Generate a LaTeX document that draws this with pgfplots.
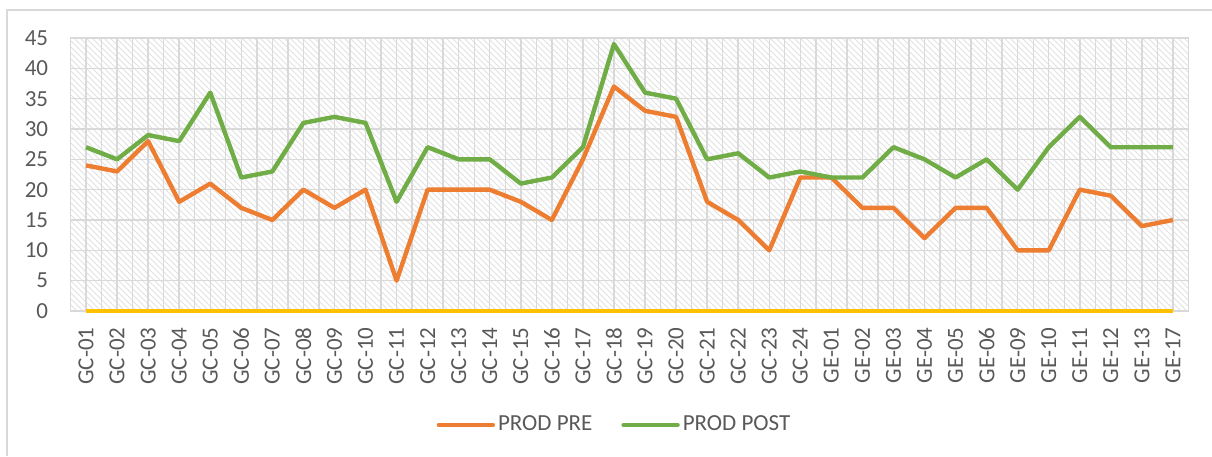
\documentclass[border=0pt]{standalone}
\usepackage{pgfplots}
\pgfplotsset{compat=1.18}
\usepackage{pgfplotstable}
\usetikzlibrary{patterns}
\usepackage{fontspec}
\setmainfont{Carlito}
\definecolor{cpre}{HTML}{ED7D31}
\definecolor{cpost}{HTML}{70AD47}
\definecolor{czero}{HTML}{FFC000}
\definecolor{cgrid}{HTML}{D9D9D9}
\definecolor{ctext}{HTML}{595959}
\definecolor{chatch}{HTML}{E2E2E2}

\pgfplotstableread{
x name pre post zero
0 GC-01 24 27 0
1 GC-02 23 25 0
2 GC-03 28 29 0
3 GC-04 18 28 0
4 GC-05 21 36 0
5 GC-06 17 22 0
6 GC-07 15 23 0
7 GC-08 20 31 0
8 GC-09 17 32 0
9 GC-10 20 31 0
10 GC-11 5 18 0
11 GC-12 20 27 0
12 GC-13 20 25 0
13 GC-14 20 25 0
14 GC-15 18 21 0
15 GC-16 15 22 0
16 GC-17 25 27 0
17 GC-18 37 44 0
18 GC-19 33 36 0
19 GC-20 32 35 0
20 GC-21 18 25 0
21 GC-22 15 26 0
22 GC-23 10 22 0
23 GC-24 22 23 0
24 GE-01 22 22 0
25 GE-02 17 22 0
26 GE-03 17 27 0
27 GE-04 12 25 0
28 GE-05 17 22 0
29 GE-06 17 25 0
30 GE-09 10 20 0
31 GE-10 10 27 0
32 GE-11 20 32 0
33 GE-12 19 27 0
34 GE-13 14 27 0
35 GE-17 15 27 0
}\data

\begin{document}
\begin{tikzpicture}
\path[use as bounding box] (0,0) rectangle (606pt,228pt);
\draw[cgrid, line width=0.6pt] (3.5pt,0) -- (3.5pt,223pt) -- (606pt,223pt);
\begin{axis}[
  at={(35.25pt,72.5pt)}, anchor=south west,
  scale only axis,
  width=559pt, height=136.5pt,
  xmin=-0.5, xmax=35.5,
  ymin=0, ymax=45,
  ytick={0,5,...,45},
  xtick={0,...,35},
  xticklabels from table={\data}{name},
  minor xtick={-0.5,0.5,...,35.5},
  major tick length=0pt, minor tick length=0pt,
  grid=both,
  major grid style={cgrid, line width=0.7pt},
  minor grid style={cgrid, line width=0.7pt},
  axis line style={cgrid, line width=0.7pt},
  axis background/.style={pattern=north west lines, pattern color=chatch},
  clip=false,
  /pgf/number format/assume math mode=true,
  tick label style={font=\fontsize{11.5}{13}\selectfont, text=ctext},
  yticklabel style={anchor=east, inner sep=0pt, xshift=-11pt},
  xticklabel style={rotate=90, anchor=east, inner sep=0pt},
  xticklabel shift=8pt,
  legend style={at={(0.487,-0.4176)}, anchor=center, draw=none, fill=none,
    legend columns=2,
    /tikz/every even column/.append style={column sep=13pt},
    nodes={inner sep=1.5pt, text=ctext, font=\fontsize{11.5}{13}\selectfont}},
  legend image code/.code={\draw[#1, line cap=round] (0pt,0pt) -- (27pt,0pt);},
]
\addplot[czero, line width=1.6pt, forget plot] table[x=x, y=zero] {\data};
\addplot[cpre, line width=2.2pt, line join=round] table[x=x, y=pre] {\data};
\addlegendentry{PROD PRE}
\addplot[cpost, line width=2.2pt, line join=round] table[x=x, y=post] {\data};
\addlegendentry{PROD POST}
\end{axis}
\end{tikzpicture}
\end{document}
